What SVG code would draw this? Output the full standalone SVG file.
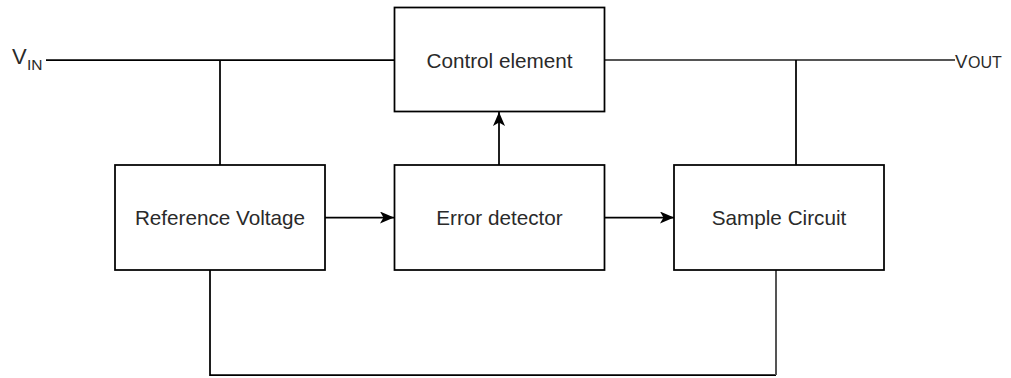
<svg xmlns="http://www.w3.org/2000/svg" width="1011" height="378" viewBox="0 0 1011 378">
  <style>
    .box { fill: #ffffff; stroke: #000000; stroke-width: 1.75; }
    .wire { fill: none; stroke: #000000; stroke-width: 1.75; }
    .soft { fill: none; stroke: #555555; stroke-width: 2; }
    .lbl { font-family: "Liberation Sans", Arial, Helvetica, sans-serif; font-size: 20.7px; fill: #2a2a2a; text-anchor: middle; }
    .pin { font-family: "Liberation Sans", Arial, Helvetica, sans-serif; fill: #2a2a2a; }
  </style>
  <defs>
    <marker id="arrow" viewBox="0 0 14 12" refX="14" refY="6" markerWidth="14" markerHeight="12" markerUnits="userSpaceOnUse" orient="auto">
      <path d="M0,0 L14,6 L0,12 L3.5,6 Z" fill="#000000"/>
    </marker>
  </defs>
  <rect width="1011" height="378" fill="#ffffff"/>

  <g id="connectors">
    <path class="wire" d="M46,60 L394,60"/>
    <path class="wire" d="M220,60 L220,165"/>
    <path class="soft" d="M604,60 L955,60"/>
    <path class="wire" d="M796,60 L796,165"/>
    <path class="wire" d="M325,217.5 L394,217.5" marker-end="url(#arrow)"/>
    <path class="wire" d="M604,217.5 L674,217.5" marker-end="url(#arrow)"/>
    <path class="wire" d="M499,165 L499,112" marker-end="url(#arrow)"/>
    <path class="wire" d="M210,270 L210,375 L776,375"/>
    <path class="soft" d="M776,375 L776,270"/>
  </g>

  <g id="vin">
    <text class="pin" x="12" y="64" font-size="22">V</text>
    <text class="pin" x="27" y="70" font-size="15.5">IN</text>
  </g>
  <g id="vout">
    <text class="pin" x="955" y="68" font-size="18.6">V</text>
    <text class="pin" x="968" y="68" font-size="16">OUT</text>
  </g>

  <g id="control-element">
    <rect class="box" x="394.5" y="7.5" width="210" height="104"/>
    <text class="lbl" x="499.5" y="67.5">Control element</text>
  </g>
  <g id="reference-voltage">
    <rect class="box" x="115" y="165" width="210" height="105"/>
    <text class="lbl" x="220" y="225">Reference Voltage</text>
  </g>
  <g id="error-detector">
    <rect class="box" x="394.5" y="165" width="210" height="105"/>
    <text class="lbl" x="499.5" y="225">Error detector</text>
  </g>
  <g id="sample-circuit">
    <rect class="box" x="674" y="165" width="210" height="105"/>
    <text class="lbl" x="779" y="225">Sample Circuit</text>
  </g>
</svg>
